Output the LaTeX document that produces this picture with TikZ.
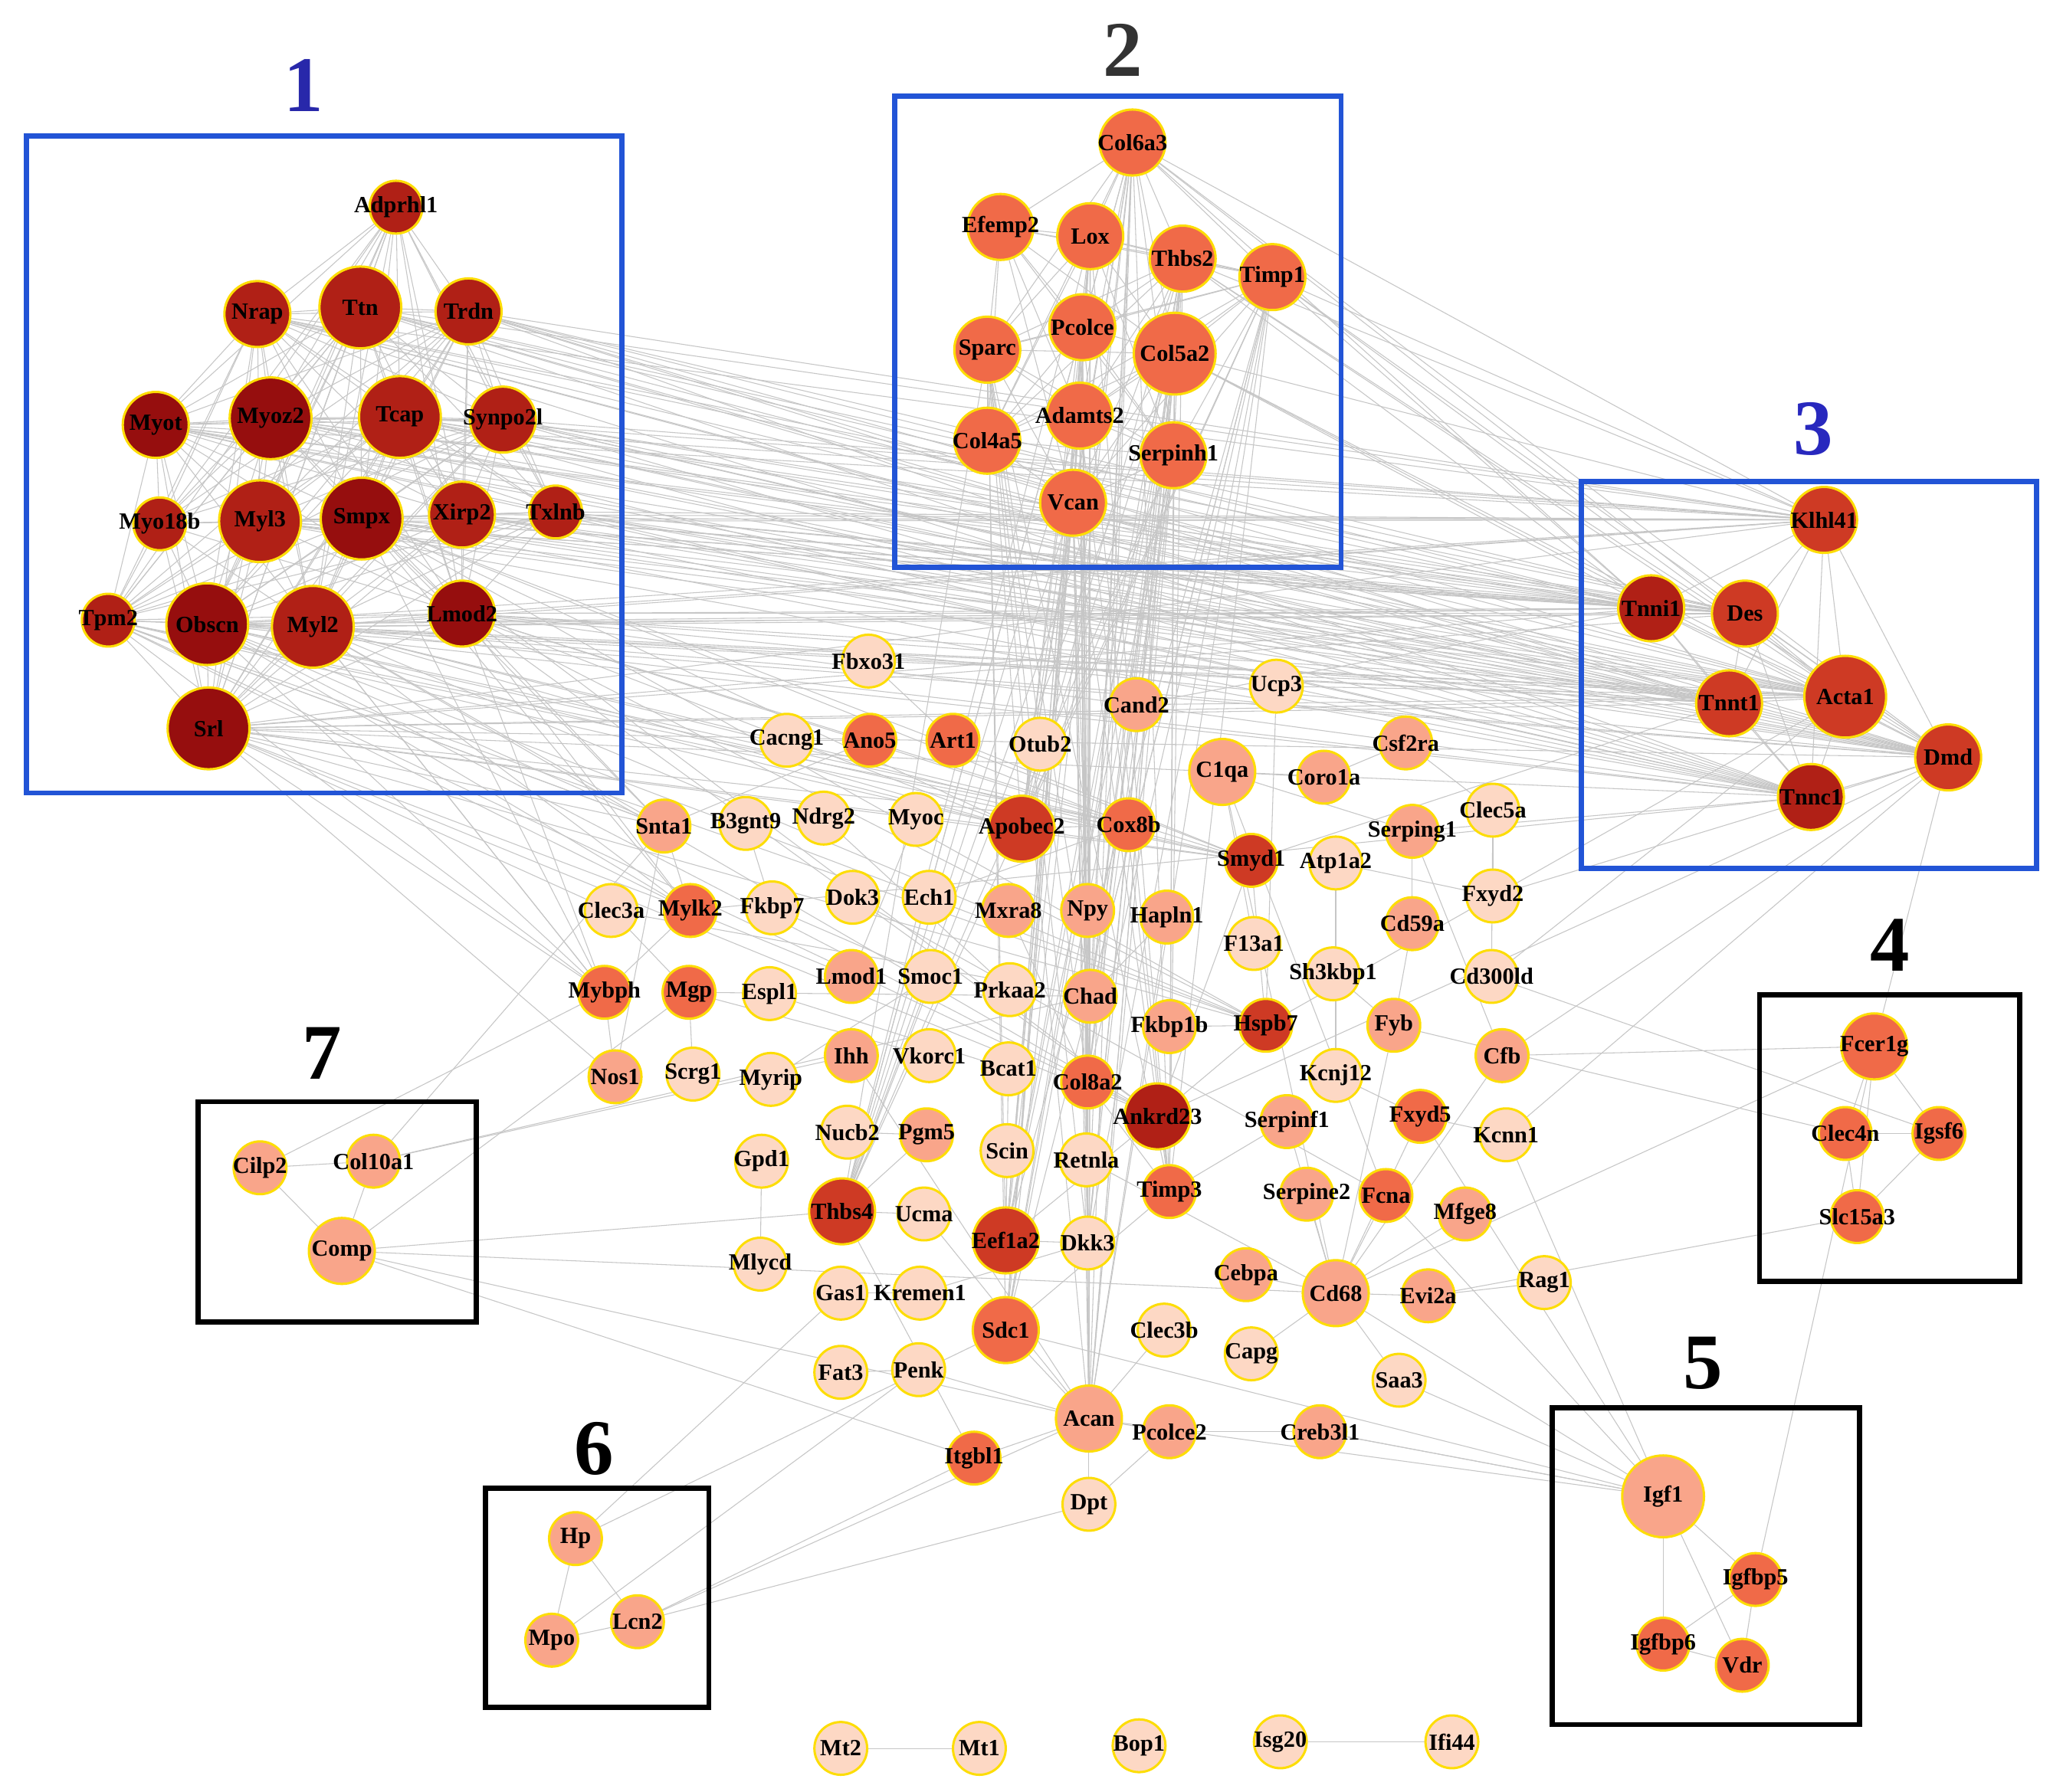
\documentclass[tikz,border=0pt]{standalone}
\usepackage{fontspec}
\setmainfont{Liberation Serif}
\usetikzlibrary{backgrounds}
\definecolor{boxblue}{RGB}{34,84,214}
\begin{document}
\begin{tikzpicture}[x=0.02cm,y=-0.02cm,
 nd/.style={circle,draw=yellow!80!orange,line width=1pt,inner sep=0pt},
 lab/.style={font=\bfseries\fontsize{10}{10}\selectfont,inner sep=0pt},
 dr/.style={nd,fill={rgb,255:red,150;green,14;blue,14}},
 rr/.style={nd,fill={rgb,255:red,176;green,32;blue,22}},
 rd/.style={nd,fill={rgb,255:red,206;green,58;blue,36}},
 oo/.style={nd,fill={rgb,255:red,240;green,106;blue,72}},
 pp/.style={nd,fill={rgb,255:red,249;green,165;blue,138}},
 ll/.style={nd,fill={rgb,255:red,253;green,216;blue,196}},
 sm/.style={minimum size=0.8cm},
 md/.style={minimum size=1cm},
 bg/.style={minimum size=1.24cm},
 edge/.style={gray!45,line width=0.35pt},
 box/.style={line width=2.2pt},
 num/.style={font=\bfseries\fontsize{34}{34}\selectfont}]
\useasboundingbox (0,0) rectangle (1563,1358);
% boxes
\draw[box,boxblue] (20,103) rectangle (471,601);
\draw[box,boxblue] (678,73) rectangle (1016,430);
\draw[box,boxblue] (1198,365) rectangle (1543,658);
\draw[box] (1333,754) rectangle (1530,971);
\draw[box] (1176,1067) rectangle (1409,1307);
\draw[box] (368,1128) rectangle (537,1294);
\draw[box] (150,835) rectangle (361,1002);
\node[num,text={rgb,255:red,40;green,40;blue,170}] (n1) at (230,65) {1};
\node[num,text=black!80] (n2) at (851,38) {2};
\node[num,text={rgb,255:red,40;green,40;blue,190}] (n3) at (1374,325) {3};
\node[num] (n4) at (1432,716) {4};
\node[num] (n5) at (1290,1033) {5};
\node[num] (n6) at (450,1098) {6};
\node[num] (n7) at (244,798) {7};
% nodes
\foreach \n/\x/\y/\c/\s in {
Adprhl1/300/157/rr/sm, Nrap/195/238/rr/md, Ttn/273/233/rr/bg, Trdn/355/236/rr/md,
Myot/118/322/dr/md, Myoz2/205/317/dr/bg, Tcap/303/316/rr/bg, Synpo2l/381/318/rr/md,
Myo18b/121/397/rr/sm, Myl3/197/395/rr/bg, Smpx/274/393/dr/bg, Xirp2/350/390/rr/md, Txlnb/421/388/rr/sm,
Tpm2/82/470/rr/sm, Obscn/157/473/dr/bg, Myl2/237/475/rr/bg, Lmod2/350/465/dr/md, Srl/158/552/dr/bg,
Col6a3/858/108/oo/md, Efemp2/758/172/oo/md, Lox/826/179/oo/md, Thbs2/896/196/oo/md, Timp1/964/210/oo/md,
Pcolce/820/248/oo/md, Sparc/748/265/oo/md, Col5a2/890/268/oo/bg, Adamts2/818/315/oo/md,
Col4a5/748/334/oo/md, Serpinh1/889/345/oo/md, Vcan/813/381/oo/md,
Klhl41/1382/394/rd/md, Tnni1/1251/461/rr/md, Des/1322/465/rd/md, Acta1/1398/528/rd/bg,
Tnnt1/1310/533/rd/md, Dmd/1476/574/rd/md, Tnnc1/1372/604/rr/md,
Fcer1g/1420/793/oo/md, Clec4n/1398/859/oo/sm, Igsf6/1469/859/oo/sm, Slc15a3/1407/922/oo/sm,
Igf1/1260/1134/pp/bg, Igfbp5/1330/1197/oo/sm, Igfbp6/1260/1246/oo/sm, Vdr/1320/1262/oo/sm,
Hp/436/1166/pp/sm, Mpo/418/1243/pp/sm, Lcn2/483/1229/pp/sm,
Cilp2/197/885/pp/sm, Col10a1/283/880/pp/sm, Comp/259/948/pp/md,
Fbxo31/658/501/ll/sm, Cand2/861/534/pp/sm, Ucp3/967/520/ll/sm, Cacng1/596/561/ll/sm,
Ano5/659/561/oo/sm, Art1/722/561/oo/sm, Otub2/788/564/ll/sm, C1qa/926/585/pp/md,
Coro1a/1003/589/pp/sm, Csf2ra/1065/563/pp/sm, Clec5a/1131/614/ll/sm, Snta1/503/626/pp/sm,
B3gnt9/565/624/ll/sm, Ndrg2/624/620/ll/sm, Myoc/694/621/ll/sm, Apobec2/774/628/rd/md,
Cox8b/855/625/oo/sm, Smyd1/948/652/rd/sm, Atp1a2/1012/654/ll/sm, Serping1/1070/630/pp/sm,
Fxyd2/1131/679/ll/sm, Clec3a/463/690/ll/sm, Mylk2/523/690/oo/sm, Fkbp7/585/688/ll/sm,
Dok3/646/680/ll/sm, Ech1/704/680/ll/sm, Mxra8/764/690/pp/sm, Npy/824/690/pp/sm,
Hapln1/884/695/pp/sm, Cd59a/1070/700/pp/sm, F13a1/950/715/ll/sm, Sh3kbp1/1010/738/ll/sm,
Cd300ld/1130/740/ll/sm, Mybph/458/752/oo/sm, Mgp/522/752/oo/sm, Espl1/583/753/ll/sm,
Lmod1/645/740/pp/sm, Smoc1/705/740/ll/sm, Prkaa2/765/750/ll/sm, Chad/826/755/pp/sm,
Fkbp1b/886/778/pp/sm, Hspb7/959/777/rd/sm, Fyb/1056/777/pp/sm, Cfb/1138/800/pp/sm,
Nos1/466/816/pp/sm, Scrg1/525/814/ll/sm, Myrip/584/818/ll/sm, Ihh/645/800/pp/sm,
Vkorc1/704/800/ll/sm, Bcat1/764/810/ll/sm, Col8a2/824/820/oo/sm, Ankrd23/877/846/rr/md,
Kcnj12/1012/815/ll/sm, Serpinf1/975/850/pp/sm, Fxyd5/1076/846/oo/sm, Kcnn1/1141/860/ll/sm,
Nucb2/642/858/ll/sm, Pgm5/702/860/pp/sm, Scin/763/872/ll/sm, Retnla/823/879/ll/sm,
Gpd1/577/880/ll/sm, Timp3/886/903/oo/sm, Serpine2/990/905/pp/sm, Fcna/1050/906/oo/sm,
Mfge8/1110/920/pp/sm, Thbs4/638/918/rd/md, Ucma/700/920/ll/sm, Eef1a2/762/940/rd/md,
Dkk3/824/942/ll/sm, Mlycd/576/958/ll/sm, Cebpa/944/966/pp/sm, Cd68/1012/980/pp/md,
Evi2a/1082/982/pp/sm, Rag1/1170/972/ll/sm, Gas1/637/980/ll/sm, Kremen1/697/980/ll/sm,
Sdc1/762/1008/oo/md, Clec3b/882/1008/ll/sm, Capg/948/1026/ll/sm, Saa3/1060/1046/ll/sm,
Fat3/637/1040/ll/sm, Penk/696/1038/ll/sm, Acan/825/1075/pp/md, Pcolce2/886/1085/pp/sm,
Creb3l1/1000/1085/pp/sm, Itgbl1/738/1105/oo/sm, Dpt/825/1140/ll/sm,
Mt2/637/1325/ll/sm, Mt1/742/1325/ll/sm, Bop1/863/1323/ll/sm, Isg20/970/1320/ll/sm, Ifi44/1100/1320/ll/sm}
{\edef\tmp{\noexpand\node[\c,\s,label={[lab]center:\n}] (\n) at (\x,\y) {};}\tmp}
% edges
\begin{pgfonlayer}{background}
\fill[white] (0,0) rectangle (1563,1358);
\def\clA{Adprhl1,Nrap,Ttn,Trdn,Myot,Myoz2,Tcap,Synpo2l,Myo18b,Myl3,Smpx,Xirp2,Txlnb,Tpm2,Obscn,Myl2,Lmod2,Srl}
\def\clB{Col6a3,Efemp2,Lox,Thbs2,Timp1,Pcolce,Sparc,Col5a2,Adamts2,Col4a5,Serpinh1,Vcan}
\def\clC{Klhl41,Tnni1,Des,Acta1,Tnnt1,Dmd,Tnnc1}
\foreach \a [count=\i] in \clA {\foreach \b [count=\j] in \clA {\ifnum\i<\j \draw[edge] (\a)--(\b);\fi}}
\foreach \a [count=\i] in \clB {\foreach \b [count=\j] in \clB {\ifnum\i<\j \draw[edge] (\a)--(\b);\fi}}
\foreach \a [count=\i] in \clC {\foreach \b [count=\j] in \clC {\ifnum\i<\j \draw[edge] (\a)--(\b);\fi}}
\foreach \a in {Ttn,Tcap,Obscn,Myl2,Myl3,Smpx,Xirp2,Lmod2,Srl,Trdn,Synpo2l,Txlnb,Myoz2,Nrap,Myot}
  \foreach \b in {Acta1,Tnni1,Tnnt1,Dmd,Klhl41,Des,Tnnc1} \draw[edge] (\a)--(\b);
\foreach \a in {Col6a3,Lox,Col5a2,Sparc,Vcan,Serpinh1,Timp1,Adamts2,Pcolce,Thbs2}
  \foreach \b in {Apobec2,Chad,Eef1a2,Col8a2,Acan,Sdc1,Thbs4,Timp3,Dkk3} \draw[edge] (\a)--(\b);
\foreach \a in {Col6a3,Timp1,Thbs2,Col5a2}
  \foreach \b in {Acta1,Klhl41,Tnni1,Dmd} \draw[edge] (\a)--(\b);
\foreach \a in {Srl,Obscn,Myl2,Lmod2,Tpm2,Smpx}
  \foreach \b in {Mylk2,Mybph,Snta1,Apobec2,Smyd1,Hspb7,Ankrd23,Cox8b} \draw[edge] (\a)--(\b);
\foreach \a/\b in {Cilp2/Col10a1,Cilp2/Comp,Col10a1/Comp,Comp/Acan,Comp/Thbs4,Col10a1/Chad,Comp/Mgp,Comp/Cd68,Cilp2/Mybph,Col10a1/Snta1,
Hp/Mpo,Hp/Lcn2,Mpo/Lcn2,Lcn2/Itgbl1,Lcn2/Acan,Hp/Sdc1,Mpo/Penk,Hp/Gas1,Lcn2/Dpt,
Fcer1g/Clec4n,Fcer1g/Igsf6,Clec4n/Igsf6,Clec4n/Slc15a3,Fcer1g/Slc15a3,Igsf6/Slc15a3,Fcer1g/Cd68,Fcer1g/Dmd,Clec4n/Fyb,Fcer1g/Cfb,Slc15a3/Evi2a,Igsf6/Cd300ld,
Igf1/Igfbp5,Igf1/Igfbp6,Igf1/Vdr,Igfbp5/Vdr,Igfbp6/Vdr,Igfbp6/Igfbp5,Igf1/Sdc1,Igf1/Fcna,Igf1/Cd68,Igf1/Acan,Igf1/Fxyd5,Igfbp5/Fcer1g,Igf1/Kcnn1,Igf1/Creb3l1,
Mt2/Mt1,Isg20/Ifi44,
Fbxo31/Acta1,Fbxo31/Art1,Cand2/Acta1,Cand2/Tnni1,Ucp3/Acta1,Ucp3/Hspb7,Ano5/Snta1,Art1/Smyd1,Otub2/Apobec2,C1qa/Coro1a,C1qa/Cd68,C1qa/Serping1,C1qa/Fcna,
Coro1a/Csf2ra,Csf2ra/Clec5a,Clec5a/Fxyd2,Serping1/Cd59a,Cd59a/Fyb,Fyb/Cd68,Cfb/Cd68,Cfb/Serping1,Atp1a2/Fxyd2,Atp1a2/Kcnj12,Sh3kbp1/Fyb,Cd300ld/Clec5a,
Smyd1/Hspb7,Smyd1/Ankrd23,Hspb7/Ankrd23,Apobec2/Cox8b,Apobec2/Smyd1,Mylk2/Mybph,Mylk2/Snta1,Snta1/Nos1,Mybph/Nos1,Clec3a/Chad,Clec3a/Mgp,Mgp/Chad,
Chad/Acan,Chad/Col8a2,Hapln1/Acan,Hapln1/Chad,Npy/Retnla,Mxra8/Col8a2,Fkbp7/Smoc1,Dok3/Fcna,Ech1/Cox8b,Lmod1/Mylk2,Smoc1/Thbs4,Ihh/Col10a1,Ihh/Acan,
Vkorc1/Mgp,Bcat1/Eef1a2,Col8a2/Timp3,Ankrd23/Eef1a2,Kcnj12/Fxyd5,Serpinf1/Timp3,Serpinf1/Cd68,Fxyd5/Cd68,Kcnn1/Fxyd5,Nucb2/Pgm5,Pgm5/Thbs4,Scin/Eef1a2,
Gpd1/Mlycd,Timp3/Sdc1,Serpine2/Cd68,Fcna/Cd68,Mfge8/Cd68,Thbs4/Ucma,Ucma/Acan,Eef1a2/Dkk3,Dkk3/Acan,Cebpa/Cd68,Evi2a/Cd68,Rag1/Evi2a,Gas1/Kremen1,
Kremen1/Dkk3,Sdc1/Acan,Clec3b/Acan,Capg/Cd68,Saa3/Cd68,Fat3/Penk,Penk/Acan,Acan/Pcolce2,Pcolce2/Creb3l1,Itgbl1/Acan,Dpt/Acan,Dpt/Pcolce2,Itgbl1/Thbs4,
Myoc/Lmod1,Ndrg2/Prkaa2,B3gnt9/Fkbp7,Cacng1/Ano5,Scrg1/Mgp,Myrip/Smoc1,Espl1/Bcat1,F13a1/C1qa,Fkbp1b/Hspb7,Hspb7/Acta1,Smyd1/Tnnt1,Ankrd23/Dmd,Mylk2/Tnnc1,
Kcnn1/Dmd,Fxyd2/Dmd,Cd300ld/Acta1,Cfb/Dmd,Serping1/Tnnc1,Mybph/Myl2,Nos1/Srl,Clec3a/Srl,Snta1/Tpm2,Itgbl1/Comp,Retnla/Cd68,Creb3l1/Igf1,Saa3/Igf1}
  \draw[edge] (\a)--(\b);
\end{pgfonlayer}
\end{tikzpicture}
\end{document}
